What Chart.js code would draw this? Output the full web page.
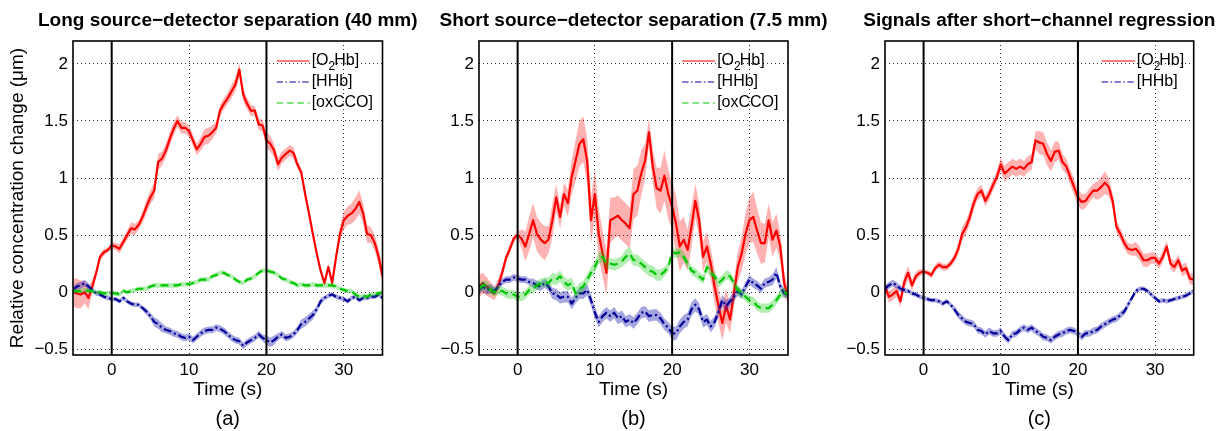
<!DOCTYPE html>
<html><head><meta charset="utf-8">
<script src="https://cdn.jsdelivr.net/npm/chart.js@4.4.0/dist/chart.umd.min.js"></script>
<style>
html,body{margin:0;padding:0;background:#fff;}
#wrap{position:relative;width:1228px;height:431px;overflow:hidden;background:#fff;}
canvas{position:absolute;top:0;}
</style></head><body><div id="wrap">
<canvas id="ca"></canvas><canvas id="cb"></canvas><canvas id="cc"></canvas>
</div>
<script>
// ---------- data ----------
const time = [-5,-4.5,-4,-3.5,-3,-2.5,-2,-1.5,-1,-0.5,
  0,0.5,1,1.5,2,2.5,3,3.5,4,4.5,
  5,5.5,6,6.5,7,7.5,8,8.5,9,9.5,
  10,10.5,11,11.5,12,12.5,13,13.5,14,14.5,
  15,15.5,16,16.5,17,17.5,18,18.5,19,19.5,
  20,20.5,21,21.5,22,22.5,23,23.5,24,24.5,
  25,25.5,26,26.5,27,27.5,28,28.5,29,29.5,
  30,30.5,31,31.5,32,32.5,33,33.5,34,34.5,35];
const xTicks = [0,10,20,30];
const yTicks = [-0.5,0,0.5,1,1.5,2];
const eventTimes = [0,20];
const panelTitles = ["Long source\u2212detector separation (40 mm)","Short source\u2212detector separation (7.5 mm)","Signals after short\u2212channel regression"];
const panelLetters = ["(a)","(b)","(c)"];
const xTitle = "Time (s)";
const yTitle = "Relative concentration change (\u03bcm)";

// Panel (a) long channel
const aO2Hb = [0.00,-0.01,-0.02,0.00,-0.05,0.05,0.17,0.31,0.35,0.37,
  0.41,0.40,0.38,0.44,0.50,0.56,0.55,0.59,0.66,0.75,
  0.83,0.89,1.14,1.17,1.24,1.34,1.43,1.50,1.44,1.44,
  1.41,1.33,1.25,1.30,1.36,1.37,1.40,1.44,1.59,1.65,
  1.70,1.76,1.82,1.95,1.73,1.65,1.59,1.59,1.47,1.46,
  1.33,1.30,1.24,1.12,1.18,1.21,1.24,1.22,1.12,1.05,
  0.86,0.69,0.51,0.34,0.19,0.08,0.22,0.08,0.31,0.51,
  0.63,0.67,0.69,0.73,0.79,0.69,0.51,0.50,0.43,0.31,0.14];
const aO2HbErr = [0.12,0.13,0.12,0.10,0.10,0.06,0.04,0.03,0.03,0.02,
  0.03,0.03,0.04,0.04,0.04,0.05,0.05,0.04,0.05,0.06,
  0.06,0.07,0.07,0.06,0.06,0.06,0.06,0.05,0.05,0.05,
  0.05,0.05,0.05,0.06,0.07,0.07,0.06,0.05,0.05,0.05,
  0.05,0.06,0.06,0.06,0.06,0.05,0.05,0.04,0.05,0.05,
  0.07,0.07,0.06,0.06,0.05,0.05,0.05,0.05,0.04,0.03,
  0.03,0.03,0.03,0.03,0.03,0.03,0.03,0.03,0.04,0.06,
  0.08,0.08,0.09,0.10,0.10,0.09,0.08,0.07,0.07,0.07,0.07];
const aHHb = [0.02,0.05,0.06,0.08,0.05,0.02,-0.01,-0.02,-0.04,-0.05,
  -0.06,-0.06,-0.08,-0.05,-0.08,-0.10,-0.11,-0.11,-0.14,-0.17,
  -0.21,-0.26,-0.28,-0.31,-0.33,-0.34,-0.36,-0.37,-0.39,-0.40,
  -0.39,-0.42,-0.39,-0.36,-0.34,-0.33,-0.33,-0.31,-0.32,-0.34,
  -0.37,-0.40,-0.42,-0.43,-0.47,-0.44,-0.42,-0.40,-0.37,-0.40,
  -0.42,-0.44,-0.42,-0.39,-0.37,-0.40,-0.39,-0.37,-0.33,-0.28,
  -0.26,-0.23,-0.20,-0.15,-0.08,-0.05,-0.03,-0.02,-0.04,-0.05,
  -0.06,-0.08,-0.05,-0.04,-0.07,-0.05,-0.05,-0.04,-0.04,-0.02,-0.05];
const aHHbErr = [0.03,0.03,0.03,0.03,0.03,0.02,0.02,0.02,0.02,0.02,
  0.02,0.02,0.02,0.02,0.02,0.02,0.02,0.02,0.02,0.03,
  0.03,0.04,0.04,0.04,0.03,0.03,0.03,0.03,0.03,0.03,
  0.03,0.03,0.03,0.03,0.03,0.03,0.03,0.03,0.03,0.03,
  0.03,0.03,0.03,0.03,0.03,0.03,0.03,0.03,0.03,0.03,
  0.04,0.04,0.04,0.03,0.03,0.03,0.03,0.03,0.03,0.04,
  0.04,0.04,0.04,0.03,0.03,0.02,0.02,0.02,0.02,0.02,
  0.02,0.02,0.02,0.02,0.02,0.02,0.02,0.02,0.02,0.02,0.02];
const aCCO = [0.01,0.01,0.01,0.02,0.01,0.01,0.00,0.00,-0.01,-0.01,
  -0.01,-0.01,-0.02,0.01,0.00,0.01,0.02,0.03,0.03,0.03,
  0.05,0.06,0.06,0.06,0.06,0.06,0.06,0.06,0.07,0.07,
  0.07,0.08,0.09,0.11,0.11,0.11,0.14,0.15,0.17,0.17,
  0.15,0.14,0.11,0.09,0.08,0.11,0.12,0.14,0.17,0.19,
  0.19,0.18,0.17,0.15,0.12,0.11,0.09,0.08,0.06,0.07,
  0.06,0.06,0.07,0.06,0.06,0.06,0.06,0.06,0.05,0.03,
  0.02,0.01,0.01,-0.02,-0.04,-0.03,-0.04,-0.02,-0.02,-0.01,0.00];
const aCCOErr = [0.02,0.02,0.02,0.02,0.02,0.02,0.02,0.02,0.02,0.02,
  0.02,0.02,0.02,0.02,0.02,0.02,0.02,0.02,0.02,0.02,
  0.02,0.02,0.02,0.02,0.02,0.02,0.02,0.02,0.02,0.02,
  0.02,0.02,0.02,0.02,0.02,0.02,0.02,0.02,0.02,0.02,
  0.02,0.02,0.02,0.02,0.02,0.02,0.02,0.02,0.02,0.02,
  0.02,0.02,0.02,0.02,0.02,0.02,0.02,0.02,0.02,0.02,
  0.02,0.02,0.02,0.02,0.02,0.02,0.02,0.02,0.02,0.02,
  0.02,0.02,0.02,0.02,0.02,0.02,0.02,0.02,0.02,0.02,0.02];

// Panel (b) short channel
const bO2Hb = [0.05,0.08,0.05,0.02,-0.01,0.06,0.17,0.30,0.38,0.47,
  0.50,0.47,0.40,0.51,0.63,0.51,0.46,0.43,0.46,0.63,
  0.83,0.66,0.86,0.78,1.01,1.15,1.30,1.34,1.15,0.63,
  0.86,0.51,0.34,0.17,0.63,0.65,0.67,0.63,0.60,0.56,
  0.86,0.89,1.04,1.15,1.40,1.10,0.91,0.89,1.02,0.86,
  0.75,0.60,0.40,0.46,0.37,0.57,0.80,0.63,0.31,0.40,
  0.25,0.05,-0.12,-0.27,-0.12,-0.24,-0.01,0.22,0.34,0.51,
  0.63,0.66,0.54,0.43,0.43,0.63,0.46,0.54,0.40,0.08,-0.04];
const bO2HbErr = [0.10,0.09,0.08,0.07,0.06,0.06,0.05,0.04,0.04,0.03,
  0.03,0.08,0.13,0.15,0.15,0.15,0.15,0.15,0.12,0.15,
  0.12,0.10,0.10,0.12,0.15,0.18,0.20,0.20,0.20,0.20,
  0.22,0.22,0.20,0.20,0.20,0.18,0.18,0.18,0.18,0.18,
  0.22,0.22,0.20,0.15,0.12,0.15,0.18,0.20,0.22,0.22,
  0.20,0.25,0.22,0.20,0.18,0.18,0.15,0.15,0.13,0.13,
  0.13,0.15,0.15,0.15,0.15,0.12,0.12,0.13,0.15,0.18,
  0.20,0.22,0.20,0.18,0.17,0.15,0.15,0.15,0.12,0.10,0.07];
const bHHb = [0.02,0.05,0.02,0.03,0.01,0.05,0.09,0.11,0.11,0.13,
  0.12,0.11,0.11,0.09,0.08,0.06,0.05,0.08,0.05,-0.01,
  -0.02,-0.05,-0.04,-0.04,-0.10,-0.05,-0.01,-0.01,0.02,-0.07,
  -0.18,-0.26,-0.21,-0.18,-0.21,-0.18,-0.23,-0.21,-0.26,-0.24,
  -0.27,-0.23,-0.18,-0.17,-0.21,-0.20,-0.20,-0.23,-0.28,-0.31,
  -0.36,-0.36,-0.30,-0.26,-0.24,-0.15,-0.11,-0.15,-0.26,-0.24,
  -0.30,-0.26,-0.17,-0.07,-0.12,-0.08,-0.04,0.01,-0.02,0.05,
  0.11,0.08,0.06,0.03,0.08,0.09,0.11,0.17,0.05,-0.01,-0.02];
const bHHbErr = [0.04,0.04,0.04,0.04,0.03,0.03,0.03,0.03,0.03,0.03,
  0.03,0.03,0.03,0.03,0.04,0.04,0.04,0.04,0.04,0.05,
  0.05,0.05,0.05,0.05,0.05,0.05,0.05,0.05,0.05,0.05,
  0.05,0.05,0.05,0.05,0.05,0.05,0.05,0.05,0.05,0.05,
  0.05,0.05,0.05,0.05,0.05,0.05,0.05,0.05,0.05,0.05,
  0.06,0.06,0.06,0.06,0.06,0.06,0.06,0.05,0.05,0.05,
  0.05,0.05,0.05,0.05,0.05,0.04,0.04,0.04,0.04,0.04,
  0.04,0.04,0.04,0.04,0.04,0.04,0.05,0.05,0.04,0.04,0.03];
const bCCO = [0.03,0.06,0.06,0.02,0.00,0.02,0.01,-0.01,-0.02,-0.02,
  -0.04,-0.04,-0.02,0.02,0.03,0.06,0.08,0.09,0.08,0.12,
  0.11,0.14,0.09,0.06,0.08,-0.01,0.03,0.05,0.11,0.17,
  0.22,0.30,0.31,0.25,0.25,0.24,0.25,0.27,0.31,0.34,
  0.28,0.28,0.25,0.22,0.19,0.18,0.15,0.15,0.18,0.22,
  0.35,0.34,0.35,0.31,0.25,0.19,0.17,0.14,0.11,0.22,
  0.17,0.14,0.08,0.11,0.15,0.14,0.08,0.02,-0.01,-0.04,
  -0.07,-0.08,-0.12,-0.14,-0.14,-0.14,-0.11,-0.07,-0.02,0.00,-0.02];
const bCCOErr = [0.04,0.04,0.04,0.04,0.04,0.04,0.04,0.04,0.04,0.04,
  0.04,0.04,0.04,0.04,0.04,0.04,0.04,0.04,0.05,0.05,
  0.05,0.05,0.05,0.05,0.05,0.05,0.05,0.05,0.05,0.05,
  0.05,0.05,0.05,0.05,0.05,0.05,0.05,0.05,0.06,0.06,
  0.05,0.05,0.05,0.05,0.05,0.05,0.05,0.05,0.04,0.04,
  0.04,0.04,0.04,0.04,0.04,0.04,0.04,0.04,0.04,0.04,
  0.04,0.04,0.04,0.04,0.04,0.04,0.04,0.04,0.04,0.04,
  0.04,0.04,0.04,0.04,0.04,0.04,0.04,0.04,0.04,0.04,0.04];

// Panel (c) after regression
const cO2Hb = [0.05,-0.04,-0.02,0.01,-0.08,0.09,0.17,0.06,0.14,0.17,
  0.18,0.17,0.15,0.21,0.24,0.22,0.22,0.25,0.30,0.38,
  0.51,0.57,0.66,0.78,0.86,0.89,0.80,0.86,0.94,1.01,
  1.12,1.04,1.07,1.10,1.08,1.10,1.08,1.12,1.14,1.33,
  1.31,1.30,1.21,1.15,1.23,1.24,1.14,1.10,1.01,0.92,
  0.83,0.79,0.80,0.85,0.89,0.89,0.92,0.96,0.92,0.80,
  0.57,0.51,0.43,0.38,0.37,0.38,0.34,0.28,0.28,0.30,
  0.30,0.25,0.31,0.40,0.25,0.22,0.28,0.19,0.21,0.12,0.11];
const cO2HbErr = [0.05,0.05,0.05,0.05,0.05,0.06,0.06,0.05,0.04,0.03,
  0.02,0.02,0.03,0.03,0.03,0.03,0.03,0.03,0.04,0.05,
  0.06,0.06,0.06,0.06,0.05,0.05,0.05,0.05,0.05,0.05,
  0.06,0.07,0.07,0.07,0.07,0.07,0.07,0.07,0.07,0.08,
  0.10,0.10,0.10,0.09,0.09,0.08,0.07,0.07,0.07,0.07,
  0.07,0.07,0.06,0.06,0.06,0.08,0.09,0.10,0.08,0.06,
  0.05,0.05,0.05,0.05,0.05,0.06,0.06,0.06,0.06,0.05,
  0.05,0.05,0.05,0.05,0.05,0.05,0.05,0.05,0.05,0.05,0.05];
const cHHb = [0.03,0.06,0.08,0.06,0.03,0.02,0.01,-0.01,-0.02,-0.04,
  -0.05,-0.06,-0.07,-0.07,-0.08,-0.10,-0.08,-0.11,-0.15,-0.20,
  -0.23,-0.26,-0.27,-0.28,-0.33,-0.34,-0.37,-0.34,-0.36,-0.36,
  -0.34,-0.39,-0.42,-0.37,-0.36,-0.33,-0.31,-0.33,-0.31,-0.34,
  -0.36,-0.39,-0.40,-0.42,-0.39,-0.37,-0.36,-0.34,-0.33,-0.34,
  -0.36,-0.39,-0.36,-0.36,-0.34,-0.33,-0.30,-0.28,-0.26,-0.24,
  -0.23,-0.20,-0.17,-0.11,-0.05,0.01,0.03,0.03,0.01,-0.02,
  -0.05,-0.08,-0.07,-0.08,-0.07,-0.06,-0.05,-0.04,-0.03,-0.01,0.01];
const cHHbErr = [0.03,0.03,0.03,0.03,0.03,0.02,0.02,0.02,0.02,0.02,
  0.02,0.02,0.02,0.02,0.02,0.02,0.02,0.02,0.03,0.03,
  0.03,0.03,0.03,0.03,0.03,0.03,0.03,0.03,0.03,0.03,
  0.03,0.03,0.03,0.03,0.03,0.03,0.03,0.03,0.03,0.03,
  0.03,0.03,0.03,0.03,0.03,0.03,0.03,0.03,0.03,0.03,
  0.03,0.03,0.03,0.03,0.03,0.03,0.03,0.03,0.03,0.03,
  0.03,0.03,0.03,0.03,0.02,0.02,0.02,0.02,0.02,0.02,
  0.02,0.02,0.02,0.02,0.02,0.02,0.02,0.02,0.02,0.02,0.02];

// ---------- styling ----------
const FONT = '"Liberation Sans", Arial, Helvetica, sans-serif';
const styles = {
  O2Hb: {color:'#ff0000', band:'rgba(255,0,0,0.30)', dash:[], legend:['[O','2','Hb]']},
  HHb:  {color:'#000096', band:'rgba(20,20,170,0.38)', dash:[8,3,2,3], legend:['[HHb]']},
  CCO:  {color:'#00c800', band:'rgba(0,200,0,0.30)', dash:[8,5], legend:['[oxCCO]']}
};

function fmt(v){ return String(v).replace('-', '\u2212'); }

function drawLegendLabel(ctx, parts, x, y, measureOnly){
  let w = 0;
  parts.forEach((p, i) => {
    const sub = (parts.length === 3 && i === 1);
    ctx.font = (sub ? '12px ' : '16px ') + FONT;
    if (!measureOnly) ctx.fillText(p, x + w, y + (sub ? 6 : 0));
    w += ctx.measureText(p).width - (sub ? 1 : 0);
  });
  return w;
}

const decor = {
  id: 'decor',
  afterDatasetsDraw(chart, args, o) {
    const {ctx, chartArea: a, scales: {x}} = chart;
    ctx.save();
    ctx.strokeStyle = '#000'; ctx.lineWidth = 2; ctx.setLineDash([]);
    eventTimes.forEach(v => {
      const px = x.getPixelForValue(v);
      ctx.beginPath(); ctx.moveTo(px, a.top); ctx.lineTo(px, a.bottom); ctx.stroke();
    });
    ctx.lineWidth = 1.6;
    ctx.strokeRect(a.left, a.top, a.right - a.left, a.bottom - a.top);
    ctx.fillStyle = '#000'; ctx.textBaseline = 'middle'; ctx.textAlign = 'left';
    let maxW = 0;
    o.keys.forEach(k => { maxW = Math.max(maxW, drawLegendLabel(ctx, styles[k].legend, 0, 0, true)); });
    const tx = a.right - 9.5 - maxW;
    o.keys.forEach((k, i) => {
      const yy = a.top + 20 + i * 21;
      const s = styles[k];
      ctx.strokeStyle = s.color; ctx.lineWidth = 1.2; ctx.setLineDash(s.dash.map(d => d * 0.8));
      ctx.beginPath(); ctx.moveTo(tx - 35, yy); ctx.lineTo(tx - 2, yy); ctx.stroke();
      ctx.setLineDash([]);
      ctx.fillStyle = '#000';
      drawLegendLabel(ctx, s.legend, tx, yy, false);
    });
    const cx = (a.left + a.right) / 2;
    ctx.textAlign = 'center'; ctx.textBaseline = 'middle'; ctx.fillStyle = '#000';
    ctx.font = 'bold 19px ' + FONT;
    ctx.fillText(o.title, cx, 21);
    ctx.font = '19px ' + FONT;
    ctx.fillText(xTitle, cx, 390);
    ctx.font = '20px ' + FONT;
    ctx.fillText(o.letter, cx, 419);
    if (o.ylabel) {
      ctx.save();
      ctx.translate(18, (a.top + a.bottom) / 2);
      ctx.rotate(-Math.PI / 2);
      ctx.font = '19px ' + FONT;
      ctx.fillText(yTitle, 0, 0);
      ctx.restore();
    }
    ctx.restore();
  }
};

function makePanel(id, left, width, plotRight, series, idx) {
  const canvas = document.getElementById(id);
  canvas.width = width; canvas.height = 431;
  canvas.style.left = left + 'px';
  canvas.style.width = width + 'px'; canvas.style.height = '431px';
  const datasets = [];
  let order = 20;
  series.forEach(s => {
    const st = styles[s.key];
    datasets.push({data: time.map((t, i) => ({x: t, y: s.mean[i] + s.err[i]})), fill: '+1',
      backgroundColor: st.band, borderWidth: 0, pointRadius: 0, order: order});
    datasets.push({data: time.map((t, i) => ({x: t, y: s.mean[i] - s.err[i]})), fill: false,
      borderWidth: 0, pointRadius: 0, order: order});
    order--;
    datasets.push({data: time.map((t, i) => ({x: t, y: s.mean[i]})), fill: false,
      borderColor: st.color, borderWidth: 2.2, borderDash: st.dash, pointRadius: 0,
      borderJoinStyle: 'round', order: order});
    order--;
  });
  const gridCommon = {color: 'rgba(0,0,0,0.8)', lineWidth: 1, drawTicks: false, borderDash: [1, 3]};
  return new Chart(canvas, {
    type: 'line',
    data: {datasets},
    plugins: [decor],
    options: {
      responsive: false, animation: false, devicePixelRatio: 1,
      layout: {padding: {left: 0, top: 41, right: width - plotRight, bottom: 0}},
      plugins: {
        legend: {display: false}, title: {display: false}, tooltip: {enabled: false},
        decor: {title: panelTitles[idx], letter: panelLetters[idx], ylabel: idx === 0, keys: series.map(s => s.key)}
      },
      scales: {
        x: {type: 'linear', min: -5, max: 35,
          afterBuildTicks: sc => { sc.ticks = xTicks.map(v => ({value: v})); },
          afterFit: sc => { sc.height = 76; },
          grid: gridCommon, border: {display: false, dash: [1, 3]},
          ticks: {font: {family: FONT, size: 17}, color: '#000', padding: 5, maxRotation: 0, autoSkip: false, callback: fmt}},
        y: {type: 'linear', min: -0.55, max: 2.2,
          afterBuildTicks: sc => { sc.ticks = yTicks.map(v => ({value: v})); },
          afterFit: sc => { sc.width = 73; },
          grid: gridCommon, border: {display: false, dash: [1, 3]},
          ticks: {font: {family: FONT, size: 17}, color: '#000', padding: 5, autoSkip: false, callback: fmt}}
      }
    }
  });
}

makePanel('ca', 0, 430, 382.5, [
  {key: 'O2Hb', mean: aO2Hb, err: aO2HbErr},
  {key: 'HHb', mean: aHHb, err: aHHbErr},
  {key: 'CCO', mean: aCCO, err: aCCOErr}], 0);
makePanel('cb', 406, 430, 382, [
  {key: 'O2Hb', mean: bO2Hb, err: bO2HbErr},
  {key: 'HHb', mean: bHHb, err: bHHbErr},
  {key: 'CCO', mean: bCCO, err: bCCOErr}], 1);
makePanel('cc', 812, 416, 381.7, [
  {key: 'O2Hb', mean: cO2Hb, err: cO2HbErr},
  {key: 'HHb', mean: cHHb, err: cHHbErr}], 2);
</script>
</body></html>
